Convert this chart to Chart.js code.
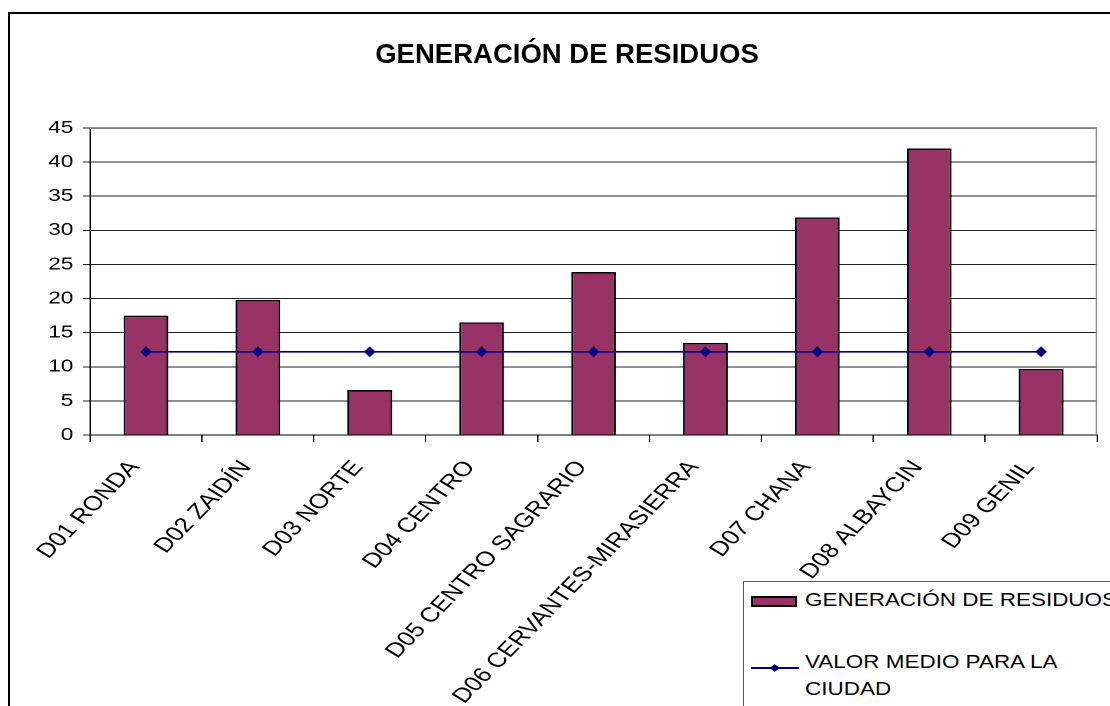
<!DOCTYPE html>
<html><head><meta charset="utf-8">
<script src="https://cdn.jsdelivr.net/npm/chart.js@4.4.1/dist/chart.umd.min.js"></script>
<style>
html,body{margin:0;padding:0;width:1110px;height:706px;overflow:hidden;background:#fff;font-family:"Liberation Sans",Arial,sans-serif;}
#frame{position:absolute;left:8px;top:12px;width:1300px;height:900px;border:2px solid #000;box-sizing:border-box;}
#cv{position:absolute;left:0;top:0;width:874px;height:706px;transform:scaleX(1.27);transform-origin:0 0;}
#title{position:absolute;left:0;width:1134px;top:38px;text-align:center;font-weight:bold;font-size:27.5px;line-height:32px;color:#000;white-space:nowrap;}
#legend{position:absolute;left:743px;top:581px;width:600px;height:300px;border:1px solid #555;background:#fff;}
#legend .sw{position:absolute;left:7px;top:14px;width:46px;height:11px;box-sizing:border-box;border:2px solid #000;}
#legend .t1{position:absolute;left:61px;top:7.8px;font-size:17.7px;line-height:20px;white-space:nowrap;transform:scaleX(1.27);transform-origin:0 0;color:#000;}
#legend .ln{position:absolute;left:7px;top:79px;}
#legend .t2{position:absolute;left:61px;top:66.9px;width:230px;font-size:17.7px;line-height:27.3px;transform:scaleX(1.27);transform-origin:0 0;color:#000;}
</style>
</head>
<body>
<div id="frame"></div>
<canvas id="cv" width="874" height="706"></canvas>
<div id="title"></div>
<div id="legend"></div>
<script>
// ---- data ----
const chartTitle = "GENERACIÓN DE RESIDUOS";
const categories = ["D01 RONDA","D02 ZAIDÍN","D03 NORTE","D04 CENTRO","D05 CENTRO SAGRARIO","D06 CERVANTES-MIRASIERRA","D07 CHANA","D08 ALBAYCIN","D09 GENIL"];
const seriesNames = ["GENERACIÓN DE RESIDUOS","VALOR MEDIO PARA LA CIUDAD"];
const residuos = [17.5, 19.8, 6.6, 16.5, 23.9, 13.5, 31.9, 42.0, 9.7];
const valorMedio = [12.2, 12.2, 12.2, 12.2, 12.2, 12.2, 12.2, 12.2, 12.2];
const yTicks = [0, 5, 10, 15, 20, 25, 30, 35, 40, 45];

// ---- style ----
const K = 1.27; // horizontal stretch of the chart canvas
const barColor = '#993366';
const lineColor = '#000080';

document.getElementById('title').textContent = chartTitle;

// legend (HTML)
const lg = document.getElementById('legend');
lg.innerHTML =
  '<div class="sw" style="background:' + barColor + '"></div>' +
  '<div class="t1"></div>' +
  '<svg class="ln" width="50" height="14"><line x1="0" y1="7" x2="48" y2="7" stroke="' + lineColor + '" stroke-width="2"/>' +
  '<polygon points="18.4,7 23.7,3.3 29,7 23.7,10.7" fill="' + lineColor + '"/></svg>' +
  '<div class="t2"></div>';
lg.querySelector('.t1').textContent = seriesNames[0];
lg.querySelector('.t2').textContent = seriesNames[1];

// diamond marker image (compensates horizontal stretch)
const hi = document.createElement('canvas');
hi.width = 40; hi.height = 44;
const hc = hi.getContext('2d');
hc.fillStyle = lineColor;
hc.beginPath();
const dw = 11.7 / K * 2, dh = 11 * 2;
hc.moveTo(20 - dw/2, 22); hc.lineTo(20, 22 - dh/2); hc.lineTo(20 + dw/2, 22); hc.lineTo(20, 22 + dh/2);
hc.closePath(); hc.fill();
const marker = new Image(20, 22);
marker.onload = build;
marker.src = hi.toDataURL();

const plotBorder = {
  id: 'plotBorder',
  beforeDatasetsDraw(chart) {
    const a = chart.chartArea, c = chart.ctx;
    c.save();
    c.strokeStyle = '#808080';
    c.lineWidth = 1;
    c.beginPath();
    c.moveTo(a.left, a.top + 0.5); c.lineTo(a.right, a.top + 0.5);
    c.moveTo(a.right - 0.5, a.top); c.lineTo(a.right - 0.5, a.bottom);
    c.stroke();
    c.restore();
  }
};

function build() {
  new Chart(document.getElementById('cv'), {
    type: 'bar',
    data: {
      labels: categories,
      datasets: [
        { type: 'line', label: seriesNames[1], data: valorMedio, borderColor: lineColor, backgroundColor: lineColor,
          borderWidth: 1.6, pointStyle: marker, pointRadius: 5, pointHoverRadius: 5, fill: false, tension: 0, order: 0 },
        { type: 'bar', label: seriesNames[0], data: residuos, backgroundColor: barColor, borderColor: '#000',
          borderWidth: 1.5, barPercentage: 0.4, categoryPercentage: 1, order: 1 }
      ]
    },
    options: {
      responsive: false, animation: false, devicePixelRatio: 2,
      layout: { padding: { top: 128, right: 10.2, bottom: 0, left: 0 } },
      plugins: { legend: { display: false }, title: { display: false }, tooltip: { enabled: false } },
      scales: {
        x: {
          offset: true,
          grid: { offset: true, drawOnChartArea: false, drawTicks: true, tickLength: 7, color: '#000', lineWidth: 1 },
          border: { color: '#000', width: 1 },
          ticks: { autoSkip: false, maxRotation: 52, minRotation: 52, color: '#000', padding: 14, labelOffset: -9,
                   font: { family: 'Liberation Sans', size: 20.5 } },
          afterFit(s) { s.height = 271; }
        },
        y: {
          min: yTicks[0], max: yTicks[yTicks.length - 1],
          ticks: { stepSize: yTicks[1] - yTicks[0], color: '#000', padding: 7.7,
                   font: { family: 'Liberation Sans', size: 17.7 } },
          grid: { color: '#222', lineWidth: 1, tickLength: 5.5, drawTicks: true },
          border: { color: '#000', width: 1 },
          afterFit(s) { s.width = 70.87; }
        }
      }
    },
    plugins: [plotBorder]
  });
}
</script>
</body></html>
